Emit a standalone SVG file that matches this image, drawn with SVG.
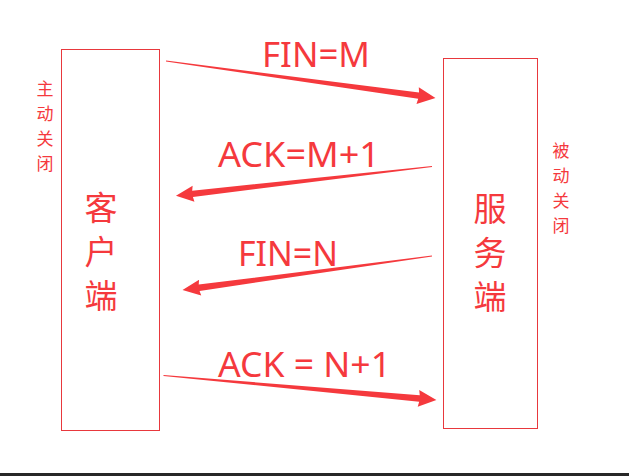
<svg xmlns="http://www.w3.org/2000/svg" width="629" height="476" viewBox="0 0 629 476">
<style>
.box{fill:#fff;stroke:#e8383d;stroke-width:1}
.arr{fill:#f5393d}
.lbl{fill:#f5393d;font-family:"Noto Sans","Liberation Sans",sans-serif;font-size:34px}
.big{fill:#f5393d;font-family:"Noto Sans CJK SC",sans-serif;font-size:33px;text-anchor:middle}
.sm{fill:#f5393d;font-family:"Noto Sans CJK SC",sans-serif;font-size:17px;text-anchor:middle}
</style>
<rect width="629" height="476" fill="#fff"/>
<rect x="0" y="473" width="629" height="3" fill="#282828"/>
<g id="client">
<rect class="box" x="61.5" y="49.5" width="98" height="381"/>
<text class="big" x="101" y="219.5">客</text>
<text class="big" x="101" y="263.5">户</text>
<text class="big" x="101" y="307.5">端</text>
</g>
<g id="server">
<rect class="box" x="443.5" y="58.5" width="94" height="370"/>
<text class="big" x="490" y="220.5">服</text>
<text class="big" x="490" y="264.5">务</text>
<text class="big" x="490" y="308.5">端</text>
</g>
<g id="label-active">
<text class="sm" x="45" y="94.5">主</text>
<text class="sm" x="45" y="119.5">动</text>
<text class="sm" x="45" y="144.5">关</text>
<text class="sm" x="45" y="169.5">闭</text>
</g>
<g id="label-passive">
<text class="sm" x="561" y="156.5">被</text>
<text class="sm" x="561" y="181.5">动</text>
<text class="sm" x="561" y="206.5">关</text>
<text class="sm" x="561" y="231.5">闭</text>
</g>
<g id="connectors">
<path class="arr" transform="translate(166,61) rotate(7.82)" d="M0,-0.5 L255,-3.2 L254,-8.5 L272,0 L254,8.5 L255,3.2 L0,0.5 Z"/>
<path class="arr" transform="translate(432,166.5) rotate(173.49)" d="M0,-0.5 L241,-3.2 L240,-8 L257.7,0 L240,8 L241,3.2 L0,0.5 Z"/>
<path class="arr" transform="translate(432,256) rotate(172.24)" d="M0,-0.5 L235,-3.2 L234,-8 L251.8,0 L234,8 L235,3.2 L0,0.5 Z"/>
<path class="arr" transform="translate(163.5,375.5) rotate(5.13)" d="M0,-0.5 L257,-3.2 L256,-8.5 L274,0 L256,8.5 L257,3.2 L0,0.5 Z"/>
</g>
<g id="connector-labels">
<text class="lbl" x="262" y="66.7" textLength="108" lengthAdjust="spacingAndGlyphs">FIN=M</text>
<text class="lbl" x="218" y="166.7" textLength="162" lengthAdjust="spacingAndGlyphs">ACK=M+1</text>
<text class="lbl" x="238" y="266" textLength="100" lengthAdjust="spacingAndGlyphs">FIN=N</text>
<text class="lbl" x="218" y="376.7" textLength="173" lengthAdjust="spacingAndGlyphs">ACK = N+1</text>
</g>
</svg>
